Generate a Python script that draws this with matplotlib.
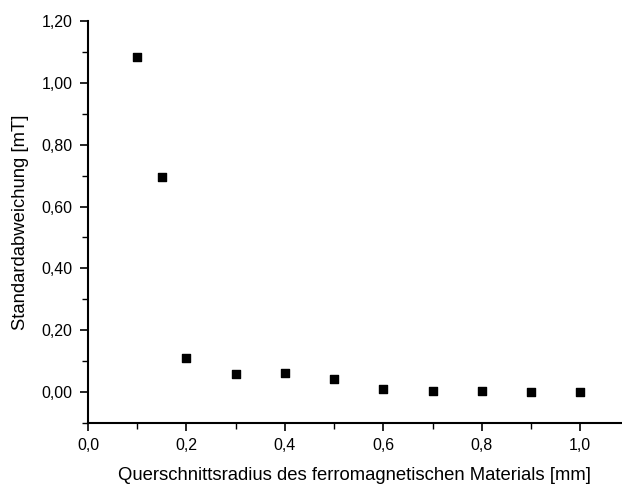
import numpy as np
import matplotlib
matplotlib.use('Agg')
from matplotlib import pyplot as plt
from matplotlib.ticker import MultipleLocator, FuncFormatter

# Standardabweichung gegen Querschnittsradius
radius = [0.1, 0.15, 0.2, 0.3, 0.4, 0.5, 0.6, 0.7, 0.8, 0.9, 1.0]
std_dev = [1.083, 0.695, 0.109, 0.060, 0.062, 0.043, 0.011, 0.004, 0.002, 0.001, 0.0]

plt.rcParams['font.family'] = ['Liberation Sans', 'DejaVu Sans']

fig = plt.figure(figsize=(6.22, 4.84), dpi=100)
ax = fig.add_axes([88/622, 61/484, 534/622, 402/484])

ax.scatter(radius, std_dev, marker='s', s=40, c='black', zorder=3, clip_on=False)

ax.set_xlim(0, 1.085)
ax.set_ylim(-0.1, 1.2)

ax.xaxis.set_major_locator(MultipleLocator(0.2))
ax.xaxis.set_minor_locator(MultipleLocator(0.1))
ax.yaxis.set_major_locator(MultipleLocator(0.2))
ax.yaxis.set_minor_locator(MultipleLocator(0.1))
ax.xaxis.set_major_formatter(FuncFormatter(lambda v, p: f'{v:.1f}'.replace('.', ',')))
ax.yaxis.set_major_formatter(FuncFormatter(lambda v, p: f'{v:.2f}'.replace('.', ',')))

ax.spines['top'].set_visible(False)
ax.spines['right'].set_visible(False)
for s in ['left', 'bottom']:
    ax.spines[s].set_linewidth(1.5)

ax.tick_params(which='major', direction='out', length=6, width=1.2, labelsize=11.5, pad=5)
ax.tick_params(which='minor', direction='out', length=4, width=1.0)

ax.set_xlabel('Querschnittsradius des ferromagnetischen Materials [mm]', fontsize=13.3, labelpad=10)
ax.set_ylabel('Standardabweichung [mT]', fontsize=13.3, labelpad=9)

fig.savefig('out.png', dpi=100)
